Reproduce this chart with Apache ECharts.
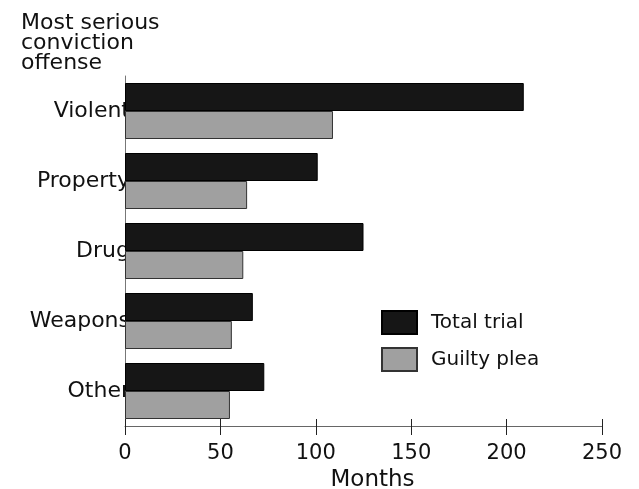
<!DOCTYPE html>
<html>
<head>
<meta charset="utf-8">
<script src="https://cdn.jsdelivr.net/npm/echarts@6/dist/echarts.min.js"></script>
<style>
  html, body { margin: 0; padding: 0; background: #fff; }
  #main { width: 639px; height: 489px; }
</style>
</head>
<body>
<div id="main"></div>
<script>
// offense types, top to bottom
var categories = ['Violent', 'Property', 'Drug', 'Weapons', 'Other'];
// months
var totalTrial = [209, 101, 125, 67, 73];
var guiltyPlea = [109, 64, 62, 56, 55];
var xTicks = [0, 50, 100, 150, 200, 250];

var font = 'DejaVu Sans';
var chart = echarts.init(document.getElementById('main'));

var option = {
  backgroundColor: '#fff',
  animation: false,
  title: {
    text: 'Most serious\nconviction\noffense',
    left: 16,
    top: 8,
    textStyle: { fontFamily: font, fontSize: 22, fontWeight: 'normal', color: '#111', lineHeight: 20 }
  },
  legend: {
    orient: 'vertical',
    left: 376,
    top: 305,
    icon: 'rect',
    itemWidth: 35,
    itemHeight: 23,
    itemGap: 12,
    textStyle: { fontFamily: font, fontSize: 20, color: '#111', padding: [0, 0, 0, 9] },
    data: ['Total trial', 'Guilty plea']
  },
  grid: { left: 125, right: 37, top: 76, bottom: 63, outerBoundsMode: 'none' },
  xAxis: [
    {
      type: 'value',
      min: xTicks[0],
      max: xTicks[xTicks.length - 1],
      interval: 50,
      name: 'Months',
      nameLocation: 'middle',
      nameGap: 37,
      nameTextStyle: { fontFamily: font, fontSize: 23, color: '#111', padding: [0, 0, 0, 18] },
      axisLine: { show: true, lineStyle: { color: '#666', width: 1 } },
      axisTick: { show: true, length: 9, lineStyle: { color: '#222' } },
      axisLabel: { fontFamily: font, fontSize: 21, color: '#111', margin: 17 },
      splitLine: { show: false }
    },
    {
      // short ticks above the line, so they cross it like the original
      type: 'value',
      position: 'bottom',
      min: xTicks[0],
      max: xTicks[xTicks.length - 1],
      interval: 50,
      axisLine: { show: false },
      axisTick: { show: true, inside: true, length: 7, lineStyle: { color: '#222' } },
      axisLabel: { show: false },
      splitLine: { show: false }
    }
  ],
  yAxis: {
    type: 'category',
    inverse: true,
    data: categories,
    axisLine: { show: true, lineStyle: { color: '#777', width: 1 } },
    axisTick: { show: false },
    axisLabel: { fontFamily: font, fontSize: 22, color: '#111', margin: -5 }
  },
  series: [
    {
      name: 'Total trial',
      type: 'bar',
      xAxisIndex: 0,
      data: totalTrial,
      barGap: 0,
      barCategoryGap: '20%',
      itemStyle: { color: '#161616', borderColor: '#000', borderWidth: 1 }
    },
    {
      name: 'Guilty plea',
      type: 'bar',
      xAxisIndex: 0,
      data: guiltyPlea,
      barGap: 0,
      barCategoryGap: '20%',
      itemStyle: { color: '#a0a0a0', borderColor: '#333', borderWidth: 1 }
    }
  ]
};

chart.setOption(option);
</script>
</body>
</html>
